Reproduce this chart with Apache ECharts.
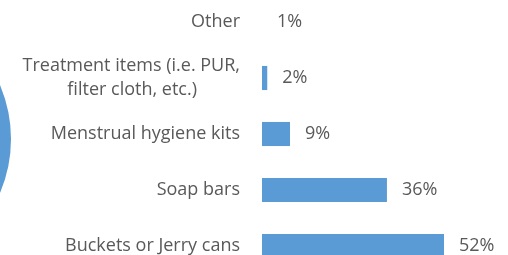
<!DOCTYPE html>
<html>
<head>
<meta charset="utf-8">
<script src="https://cdn.jsdelivr.net/npm/echarts@6/dist/echarts.min.js"></script>
<style>
  html, body { margin: 0; padding: 0; background: #fff; }
  #chart { width: 508px; height: 255px; }
</style>
</head>
<body>
<div id="chart"></div>
<script>
// categories, top to bottom
var categories = [
  "Other",
  "Treatment items (i.e. PUR, filter cloth, etc.)",
  "Menstrual hygiene kits",
  "Soap bars",
  "Buckets or Jerry cans"
];
// bar lengths (percent)
var values = [0, 1.5, 8, 35.7, 52];
// the printed data labels
var valueLabels = ["1%", "2%", "9%", "36%", "52%"];

var myChart = echarts.init(document.getElementById("chart"));
myChart.setOption({
  animation: false,
  textStyle: { fontFamily: "Open Sans" },
  // edge of a neighbouring pie that is cut off on the left
  graphic: [
    {
      type: "circle",
      shape: { cx: -127, cy: 139, r: 138 },
      style: { fill: "#5b9bd5" },
      silent: true
    }
  ],
  grid: { left: 262, right: 36, top: -6, bottom: -19, outerBoundsMode: "none", containLabel: false },
  xAxis: {
    type: "value",
    min: 0,
    max: 60,
    show: false
  },
  yAxis: {
    type: "category",
    inverse: true,
    data: categories,
    axisLine: { show: false },
    axisTick: { show: false },
    splitLine: { show: false },
    axisLabel: {
      margin: 22,
      color: "#595959",
      fontSize: 18,
      lineHeight: 24,
      formatter: function(v) {
        if (v.indexOf("Treatment") === 0) {
          return "{a|Treatment items (i.e. PUR,}\n{b|filter cloth, etc.)}";
        }
        return v;
      },
      rich: {
        a: { color: "#595959", fontSize: 18, lineHeight: 24 },
        b: { color: "#595959", fontSize: 18, lineHeight: 24, padding: [0, 43, 0, 0] }
      }
    }
  },
  series: [
    {
      type: "bar",
      data: values,
      barCategoryGap: "57%",
      itemStyle: { color: "#5b9bd5" },
      label: {
        show: true,
        position: "right",
        distance: 15,
        color: "#595959",
        fontSize: 18,
        formatter: function(p) {
          return valueLabels[p.dataIndex];
        }
      }
    }
  ]
});
</script>
</body>
</html>
